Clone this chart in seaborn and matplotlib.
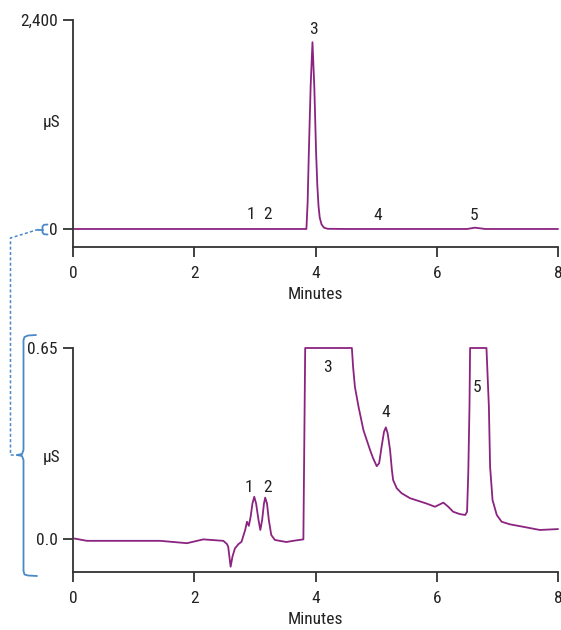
import numpy as np
import pandas as pd
import matplotlib
matplotlib.use("Agg")
import matplotlib.pyplot as plt
from matplotlib.lines import Line2D
from matplotlib import font_manager
import seaborn as sns

# ---- data ----
top_minutes = [0.0, 1.0, 2.0, 3.0, 3.5, 3.85, 3.87, 3.89, 3.92, 3.95, 3.98, 4.01, 4.03, 4.05,
               4.07, 4.10, 4.14, 4.20, 4.5, 5.0, 6.0, 6.5, 6.63, 6.8, 7.5, 8.0]
top_us = [0, 0, 0, 0, 0, 0, 300, 875, 1640, 2145, 1640, 875, 500, 262,
          130, 52, 15, 2, 0, 0, 0, 0, 15, 0, 0, 0]

bot_minutes = [0.02, 0.23, 0.89, 1.44, 1.88, 2.15, 2.48, 2.54, 2.56, 2.60, 2.63, 2.67, 2.73,
               2.78, 2.84, 2.87, 2.90, 2.93, 2.96, 2.99, 3.02, 3.06, 3.09, 3.12, 3.15, 3.17,
               3.20, 3.23, 3.27, 3.33, 3.52, 3.63, 3.80, 3.83,
               4.60, 4.62, 4.65, 4.71, 4.79, 4.90, 4.95, 5.01, 5.05, 5.09, 5.13, 5.16, 5.19,
               5.23, 5.26, 5.28, 5.34, 5.42, 5.56, 5.83, 5.97, 6.05, 6.11, 6.19, 6.27, 6.38,
               6.47, 6.50, 6.52, 6.54, 6.55, 6.82, 6.86, 6.88, 6.92, 6.99, 7.07, 7.21, 7.37,
               7.70, 8.00]
bot_us = [0.002, -0.006, -0.006, -0.006, -0.014, -0.001, -0.006, -0.017, -0.026, -0.094,
          -0.060, -0.032, -0.017, -0.009, 0.031, 0.059, 0.045, 0.076, 0.121, 0.144, 0.121,
          0.065, 0.031, 0.065, 0.121, 0.141, 0.121, 0.065, 0.014, -0.003, -0.010, -0.006,
          -0.001, 0.65,
          0.65, 0.586, 0.518, 0.450, 0.371, 0.303, 0.275, 0.248, 0.258, 0.314, 0.365, 0.380,
          0.360, 0.303, 0.235, 0.201, 0.173, 0.156, 0.139, 0.121, 0.110, 0.118, 0.124, 0.110,
          0.093, 0.085, 0.082, 0.093, 0.224, 0.450, 0.65, 0.65, 0.450, 0.246, 0.133, 0.082,
          0.059, 0.050, 0.044, 0.031, 0.034]

x_ticks = [0, 2, 4, 6, 8]
top_yticks = [0, 2400]
top_yticklabels = ["0", "2,400"]
bot_yticks = [0.0, 0.65]
bot_yticklabels = ["0.0", "0.65"]

peak_names = ["1", "2", "3", "4", "5"]
top_label_x = [2.94, 3.20, 3.96, 5.03, 6.61]
top_label_y = [166, 166, 2290, 155, 155]
bot_label_x = [2.90, 3.20, 4.19, 5.16, 6.66]
bot_label_y = [0.174, 0.174, 0.582, 0.429, 0.514]

# ---- style ----
sns.set_style("ticks")
avail = {f.name for f in font_manager.fontManager.ttflist}
fam = "DejaVu Sans"
for cand in ["Liberation Sans Narrow", "Roboto Condensed", "Roboto", "Liberation Sans"]:
    if cand in avail:
        fam = cand
        break
plt.rcParams["font.family"] = [fam, "DejaVu Sans"]

LINE = "#8b2380"
AX = "#333333"
BLUE = "#4a88c7"
FS = 12.5

W, H = 561, 630
fig = plt.figure(figsize=(W / 100, H / 100), dpi=100)

def px_rect(l, t, r, b):
    return [l / W, 1 - b / H, (r - l) / W, (b - t) / H]

ax1 = fig.add_axes(px_rect(73, 20, 558, 247))
ax2 = fig.add_axes(px_rect(73, 348, 558, 572))

df_top = pd.DataFrame({"Minutes": top_minutes, "uS": top_us})
df_bot = pd.DataFrame({"Minutes": bot_minutes, "uS": bot_us})

sns.lineplot(data=df_top, x="Minutes", y="uS", ax=ax1, color=LINE, linewidth=1.3,
             estimator=None, sort=False)
sns.lineplot(data=df_bot, x="Minutes", y="uS", ax=ax2, color=LINE, linewidth=1.3,
             estimator=None, sort=False)
for ax in (ax1, ax2):
    for line in ax.lines:
        line.set_clip_on(False)
        line.set_solid_joinstyle("round")

ax1.set_xlim(0, 8)
ax1.set_ylim(-207, 2400)
ax2.set_xlim(0, 8)
ax2.set_ylim(-0.112, 0.65)

for ax, yt, ytl in [(ax1, top_yticks, top_yticklabels), (ax2, bot_yticks, bot_yticklabels)]:
    sns.despine(ax=ax, top=True, right=True)
    ax.set_xticks(x_ticks)
    ax.set_xticklabels([str(t) for t in x_ticks])
    ax.set_yticks(yt)
    ax.set_yticklabels(ytl)
    for s in ["left", "bottom"]:
        ax.spines[s].set_color(AX)
        ax.spines[s].set_linewidth(1.3)
    ax.tick_params(axis="both", colors=AX, labelcolor="#222222", labelsize=FS,
                   length=7, width=1.3, direction="out", pad=4)
    ax.tick_params(axis="x", pad=7)
    ax.set_xlabel("Minutes", fontsize=FS, color="#222222", labelpad=4)
    ax.set_ylabel("μS", fontsize=FS, color="#222222", rotation=0, ha="right", va="center")

ax1.yaxis.set_label_coords(-0.026, 0.55)
ax2.yaxis.set_label_coords(-0.026, 0.513)

for n, x, y in zip(peak_names, top_label_x, top_label_y):
    ax1.text(x, y, n, fontsize=FS, color="#222222", ha="center", va="center")
for n, x, y in zip(peak_names, bot_label_x, bot_label_y):
    ax2.text(x, y, n, fontsize=FS, color="#222222", ha="center", va="center")

# ---- bracket annotations (figure pixel coordinates) ----
def fline(xs, ys, **kw):
    fig.add_artist(Line2D([x / W for x in xs], [1 - y / H for y in ys],
                          transform=fig.transFigure, **kw))

# small bracket at top zero
fline([47.5, 44, 42.5, 42.5, 44, 47.5], [224.5, 224.8, 226.5, 232.5, 234.2, 234.5],
      color=BLUE, linewidth=1.3)
fline([42.5, 38], [229.5, 229.5], color=BLUE, linewidth=1.3)
# dashed connector
fline([38, 10.5, 10.5, 16], [229.5, 238, 455, 455], color=BLUE, linewidth=1.1,
      linestyle=(0, (2, 1.5)))
# large brace on bottom panel
fline([36, 28, 24.5, 23.5, 23.5, 22, 17],
      [335, 335.5, 337, 340, 450, 454, 455], color=BLUE, linewidth=1.3)
fline([17, 22, 23.5, 23.5, 24.5, 28, 37],
      [455, 456, 460, 571, 574.5, 575.5, 576], color=BLUE, linewidth=1.3)

fig.savefig("out.png", dpi=100)
